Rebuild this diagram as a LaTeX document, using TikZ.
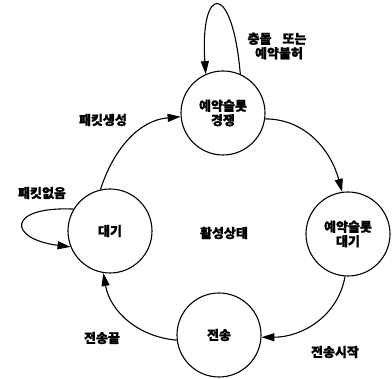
\documentclass[tikz,border=0pt]{standalone}
\usepackage{fontspec}
\newfontfamily\kr{Noto Sans CJK KR}[FakeBold=1.2]
\usetikzlibrary{arrows.meta}
\tikzset{
  state/.style={circle, draw, line width=1.1pt, minimum size=84pt, inner sep=0pt, align=center, font=\kr\bfseries\fontsize{13}{14.5}\selectfont},
  lbl/.style={align=center, inner sep=0pt, font=\kr\bfseries\fontsize{13}{14.5}\selectfont},
  arr/.style={line width=1.1pt, -{Triangle[length=13pt,width=8pt]}},
}
\begin{document}
\begin{tikzpicture}[x=1pt,y=1pt]
\useasboundingbox (0,0) rectangle (392,379);
\node[state] (t) at (223,266) {예약슬롯\\경쟁};
\node[state] (l) at (110,148) {대기};
\node[state] (r) at (348,145) {예약슬롯\\대기};
\node[state] (b) at (219,44) {전송};
\node[lbl] (c) at (277,333) {충돌\hspace{8pt} 또는\\\hspace{4pt}예약불허};
\node[lbl] (p1) at (103,259) {패킷생성};
\node[lbl] (p2) at (42,186) {패킷없음};
\node[lbl] (h) at (224,146) {활성상태};
\node[lbl] (s1) at (335,27) {전송시작};
\node[lbl] (s2) at (102,41) {전송끝};
\draw[arr] (t.66) .. controls +(-8,94) and +(-6,90) .. (t.114);
\draw[arr] (l.103) to[out=72,in=185] (t.185);
\draw[arr] (l.149) .. controls +(-67,3) and +(-63,8) .. (l.202);
\draw[arr] (t.-8) to[out=0,in=105] (r.98);
\draw[arr] (r.-94) to[out=-100,in=0] (b.-3);
\draw[arr] (b.187) to[out=175,in=-80] (l.-99);
\end{tikzpicture}
\end{document}
